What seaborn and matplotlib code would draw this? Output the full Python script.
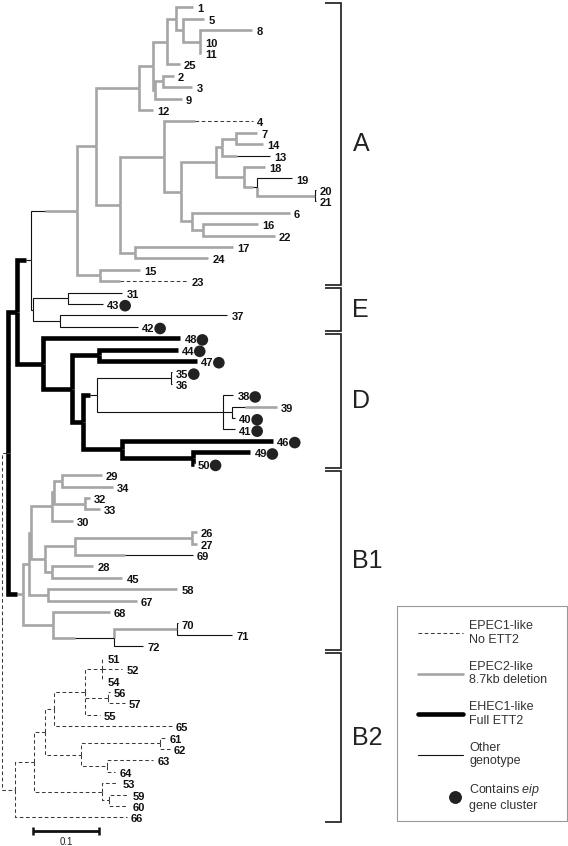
import matplotlib
matplotlib.use('Agg')
import matplotlib.pyplot as plt
import seaborn as sns
from matplotlib.lines import Line2D
from matplotlib.patches import Rectangle
from matplotlib.legend_handler import HandlerLine2D

# leaves, top to bottom: name, distance from root, branch genotype
leaf_names = ['1', '5', '8', '10', '11', '25', '2', '3', '9', '12', '4', '7', '14', '13', '18',
              '19', '20', '21', '6', '16', '22', '17', '24', '15', '23',
              '31', '43', '37', '42',
              '48', '44', '47', '35', '36', '38', '39', '40', '41', '46', '49', '50',
              '29', '34', '32', '33', '30', '26', '27', '69', '28', '45', '58', '67', '68', '70', '71', '72',
              '51', '52', '54', '56', '57', '55', '65', '61', '62', '63', '64', '53', '59', '60', '66']
leaf_dist = [0.290, 0.307, 0.380, 0.302, 0.302, 0.270, 0.261, 0.289, 0.273, 0.230, 0.381, 0.387, 0.396, 0.407, 0.399,
             0.440, 0.476, 0.476, 0.437, 0.389, 0.414, 0.351, 0.313, 0.210, 0.281,
             0.183, 0.154, 0.342, 0.207,
             0.271, 0.267, 0.296, 0.258, 0.258, 0.351, 0.417, 0.354, 0.354, 0.411, 0.377, 0.291,
             0.152, 0.169, 0.134, 0.149, 0.108, 0.296, 0.296, 0.290, 0.139, 0.183, 0.266, 0.205, 0.164, 0.267, 0.349, 0.215,
             0.154, 0.183, 0.154, 0.164, 0.187, 0.149, 0.258, 0.248, 0.255, 0.230, 0.172, 0.177, 0.192, 0.192, 0.190]
leaf_style = ['grey'] * 15 + ['thin'] * 3 + ['grey'] * 7 + \
             ['thin'] * 4 + \
             ['thick'] * 3 + ['thin'] * 6 + ['thick'] * 3 + \
             ['grey'] * 13 + ['thin'] * 3 + \
             ['dash'] * 15

# internal nodes: name, distance from root, branch genotype, children
node_names = ['root', 'n1', 'n2', 'ae', 'a', 'a1', 'a2', 'a3', 'a4', 'a5', 'a6', 'a7', 'a8', 'a9',
              'a10', 'a11', 'a12', 'a13', 'a14', 'a15', 'a16', 'a17', 'a18', 'a19', 'a20', 'a21', 'a22',
              'e', 'e1', 'e2', 'd', 'd1', 'd2', 'd3', 'd4', 'd5', 'd6', 'd7', 'd8', 'd9',
              'b1', 'b1a', 'b1b', 'b1c', 'b1d', 'b1e', 'b1f', 'b1g', 'b1h', 'b1i', 'b1j', 'b1k', 'b1l', 'b1m', 'b1n',
              'b2', 'b2a', 'b2b', 'b2c', 'b2d', 'b2e', 'b2f', 'b2g', 'b2h', 'b2i', 'b2j', 'b2k']
node_dist = [0.0, 0.010, 0.023, 0.044, 0.114, 0.143, 0.208, 0.230, 0.250, 0.264, 0.275, 0.301, 0.233, 0.245,
             0.180, 0.246, 0.272, 0.325, 0.334, 0.355, 0.367, 0.387, 0.475, 0.289, 0.305, 0.202, 0.149,
             0.048, 0.101, 0.089, 0.063, 0.107, 0.148, 0.124, 0.145, 0.257, 0.336, 0.349, 0.183, 0.290,
             0.032, 0.041, 0.044, 0.077, 0.080, 0.092, 0.127, 0.066, 0.111, 0.289, 0.077, 0.070, 0.078, 0.170, 0.266,
             0.020, 0.049, 0.066, 0.080, 0.127, 0.153, 0.162, 0.120, 0.240, 0.160, 0.152, 0.163]
node_style = [None, 'dash', 'thick', 'thick', 'thin'] + ['grey'] * 22 + \
             ['thin'] * 3 + ['thick'] * 5 + ['thin'] * 3 + ['thick'] * 2 + \
             ['thick'] + ['grey'] * 14 + \
             ['dash'] * 12
node_children = [['n1', 'b2'], ['n2', 'b1'], ['ae', 'd'], ['a', 'e'], ['a1', 'a22'],
                 ['a2', 'a10'], ['a3', '12'], ['a4', 'a8'], ['a5', '25'], ['1', 'a6'], ['5', 'a7'],
                 ['8', '10', '11'], ['a9', '9'], ['2', '3'],
                 ['a11', 'a21'], ['4', 'a12'], ['a13', 'a19'], ['a14', 'a16'], ['a15', '13'], ['7', '14'],
                 ['18', 'a17'], ['19', 'a18'], ['20', '21'], ['6', 'a20'], ['16', '22'], ['17', '24'], ['15', '23'],
                 ['e1', 'e2'], ['31', '43'], ['37', '42'],
                 ['48', 'd1'], ['d2', 'd3'], ['44', '47'], ['d4', 'd8'], ['d5', 'd6'], ['35', '36'],
                 ['38', 'd7', '41'], ['39', '40'], ['46', 'd9'], ['49', '50'],
                 ['b1a', 'b1l'], ['b1b', 'b1k'], ['b1c', 'b1g'], ['b1d', '30'], ['b1e', 'b1f'], ['29', '34'],
                 ['32', '33'], ['b1h', 'b1j'], ['b1i', '69'], ['26', '27'], ['28', '45'], ['58', '67'],
                 ['68', 'b1m'], ['b1n', '72'], ['70', '71'],
                 ['b2a', '66'], ['b2b', 'b2j'], ['b2c', 'b2g'], ['b2d', '65'], ['b2e', 'b2f', '55'],
                 ['51', '52', '54'], ['56', '57'], ['b2h', 'b2i'], ['61', '62'], ['63', '64'],
                 ['53', 'b2k'], ['59', '60']]

# branches whose genotype changes part way along: (distance of change, new genotype)
switch_names = ['4', '23', '13', 'a17', 'ae', 'a', 'd4', '39', 'b1', '69', 'b1m']
switch_dist = [0.293, 0.180, 0.357, 0.381, 0.037, 0.066, 0.134, 0.369, 0.023, 0.187, 0.111]
switch_style = ['dash', 'dash', 'thin', 'thin', 'thin', 'grey', 'thin', 'grey', 'grey', 'thin', 'thin']

eip_leaves = ['43', '42', '48', '44', '47', '35', '38', '40', '41', '46', '49', '50']

clade_labels = ['A', 'E', 'D', 'B1', 'B2']
clade_first = ['1', '31', '48', '29', '51']
clade_last = ['23', '42', '50', '72', '66']

legend_labels = ['EPEC1-like\nNo ETT2', 'EPEC2-like\n8.7kb deletion', 'EHEC1-like\nFull ETT2',
                 'Other\ngenotype', 'Contains $\\it{eip}$\ngene cluster']

STYLES = {
    'dash': dict(color='#3a3a3a', lw=0.75, ls=(0, (3.5, 2.5)), zorder=2),
    'grey': dict(color='#a5a5a5', lw=1.9, ls='-', zorder=1),
    'thin': dict(color='#111111', lw=0.8, ls='-', zorder=3),
    'thick': dict(color='black', lw=3.3, ls='-', zorder=4),
}

sns.set_theme(style='white')
plt.rcParams['font.family'] = ['Liberation Sans', 'DejaVu Sans']
plt.rcParams['mathtext.fontset'] = 'custom'
plt.rcParams['mathtext.it'] = 'Liberation Sans:italic'
plt.rcParams['mathtext.rm'] = 'Liberation Sans'

# build the tree
dist = dict(zip(leaf_names, leaf_dist))
dist.update(zip(node_names, node_dist))
style = dict(zip(leaf_names, leaf_style))
style.update(zip(node_names, node_style))
children = dict(zip(node_names, node_children))
parent = {c: p for p, kids in children.items() for c in kids}
switch = {n: (d, s) for n, d, s in zip(switch_names, switch_dist, switch_style)}

ypos = {name: i for i, name in enumerate(leaf_names)}


def get_y(name):
    if name not in ypos:
        ys = [get_y(k) for k in children[name]]
        ypos[name] = (ys[0] + ys[-1]) / 2
    return ypos[name]


get_y('root')

px = 0.1 / 66  # tree units per pixel (scale bar 0.1 = 66 px)
fig = plt.figure(figsize=(5.68, 8.46), dpi=100)
ax = fig.add_axes([0, 0, 1, 1])
ax.set_xlim(-1.5 * px, 566.5 * px)
ax.set_ylim((846 - 7.3) / 11.41, -7.3 / 11.41)
ax.axis('off')


def seg(xs, ys, st):
    s = STYLES[st]
    ax.plot(xs, ys, color=s['color'], lw=s['lw'], ls=s['ls'], zorder=s['zorder'],
            solid_capstyle='butt', solid_joinstyle='miter', dash_capstyle='butt')


for name, p in parent.items():
    x0, y0 = dist[p], ypos[p]
    x1, y1 = dist[name], ypos[name]
    st = style[name]
    if name in switch:
        xs, st2 = switch[name]
        seg([x0, x0, xs], [y0, y1, y1], st)
        seg([xs, x1], [y1, y1], st2)
    else:
        seg([x0, x0, x1], [y0, y1, y1], st)

# leaf labels
for name in leaf_names:
    ax.annotate(name, (dist[name], ypos[name]), xytext=(3, -1.5), textcoords='offset points',
                fontsize=8, fontweight='bold', va='center', ha='left', color='#111111')

# eip dots after the labels
sns.scatterplot(x=[dist[n] + 22 * px for n in eip_leaves], y=[ypos[n] + 0.15 for n in eip_leaves],
                s=70, color='#222222', edgecolor='none', ax=ax, zorder=5, legend=False)

# clade brackets
bx, tx = 339 * px, 323 * px
for lab, f, l in zip(clade_labels, clade_first, clade_last):
    top, bot = ypos[f] - 0.37, ypos[l] + 0.37
    ax.plot([tx, bx, bx, tx], [top, top, bot, bot], color='#222222', lw=1.25,
            solid_joinstyle='miter', solid_capstyle='butt')
    ax.text(351 * px, (top + bot) / 2, lab, fontsize=18, va='center', ha='left', color='#222222')

# scale bar
sx = 31.5 * px
sy = (831 - 7.3) / 11.41
ax.plot([sx, sx + 0.1], [sy, sy], color='#111111', lw=2.0, solid_capstyle='butt')
ax.plot([sx, sx + 0.1], [sy, sy], ls='none', marker='|', ms=6, mew=1.8, color='#111111')
ax.text(sx + 0.05, sy + 0.95, '0.1', fontsize=7, ha='center', va='center', color='#222222')


# legend: dot sits near the right end of the handle
class RightDot(HandlerLine2D):
    def get_xdata(self, legend, xdescent, ydescent, width, height, fontsize):
        xm = -xdescent + 0.82 * width
        return [xm, xm], [xm, xm]


handles = []
for st in ['dash', 'grey', 'thick', 'thin']:
    s = STYLES[st]
    handles.append(Line2D([], [], color=s['color'], lw=s['lw'], ls=s['ls']))
dot = Line2D([], [], ls='none', marker='o', ms=8, color='#222222')
handles.append(dot)
leg = fig.legend(handles, legend_labels, loc='upper left', bbox_to_anchor=(418 / 568, 1 - 620 / 846),
                 borderaxespad=0, borderpad=0, fontsize=9, frameon=False,
                 handlelength=3.6, handletextpad=0.48, labelspacing=1.18,
                 handler_map={dot: RightDot(numpoints=2)})
for t in leg.get_texts():
    t.set_color('#333333')
fig.patches.append(Rectangle((397 / 568, 1 - 821 / 846), 170 / 568, 215 / 846, transform=fig.transFigure,
                             fill=False, edgecolor='#999999', lw=0.8))

fig.savefig('out.png', dpi=100)
